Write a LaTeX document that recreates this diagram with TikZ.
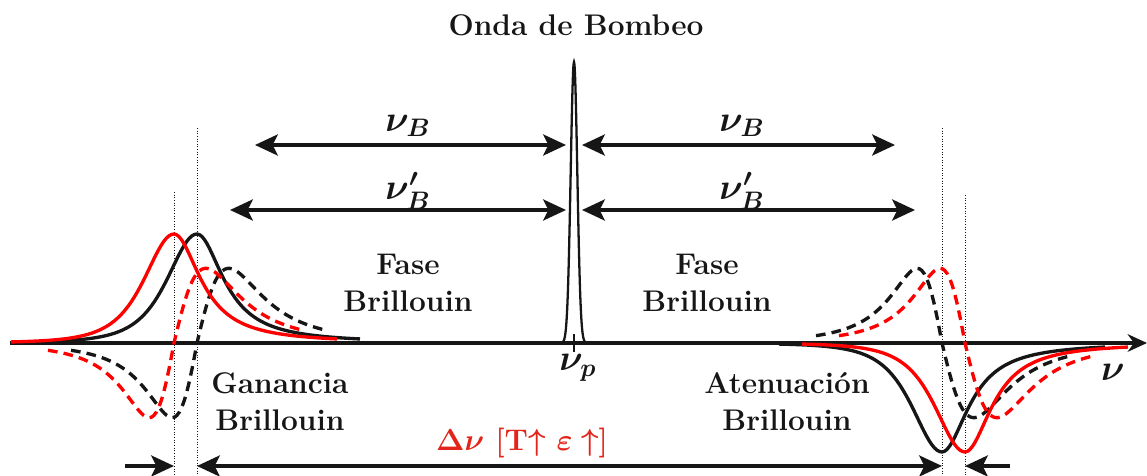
\documentclass[tikz,border=0pt]{standalone}
\usepackage{amsmath,bm}
\usetikzlibrary{arrows.meta}
\definecolor{bsred}{HTML}{FF0000}
\definecolor{bslabel}{HTML}{E3241B}
\definecolor{bsink}{HTML}{161616}

\begin{document}
\begin{tikzpicture}[x=0.02cm, y=-0.02cm,
    font=\fontsize{17}{21}\selectfont\bfseries,
    declare function={
      pk(\d) = (\d<0) ? 109/((1+(\d/54)*(\d/54))^2) : 109/(1+(\d/32)*(\d/32));
      wd(\d) = (\d<0) ? 43 : 55;
      ds(\d) = 230*(\d/wd(\d))/((1+(\d/wd(\d))*(\d/wd(\d)))^2);
    },
    axisline/.style={bsink, line width=2.3pt, -{Stealth[length=11pt, width=10pt]}},
    span/.style={bsink, line width=2pt,
                 {Stealth[length=13pt, width=12pt, inset=3pt]}-{Stealth[length=13pt, width=12pt, inset=3pt]}},
    tip/.style={bsink, line width=2pt, -{Stealth[length=13pt, width=12pt, inset=3pt]}},
    curve/.style={line width=1.9pt},
    phase/.style={curve, dash pattern=on 5.5pt off 3.5pt},
    guide/.style={bsink, line width=0.5pt, densely dotted},
    lbl/.style={align=center, inner sep=1pt, text=bsink},
    sym/.style={inner sep=1pt, text=bsink, font=\fontsize{21}{24}\selectfont}]

\useasboundingbox (0,0) rectangle (1147,476);

% --- frequency axis and pump -------------------------------------------------
\coordinate (ax0) at (10,343);
\coordinate (ax1) at (1147,343);
\draw[axisline] (ax0) -- (ax1);
\node[sym] (nu) at (1113,372) {$\bm{\nu}$};

\draw[bsink, line width=1.3pt] plot[domain=-11:11, samples=45, smooth]
  ({574+\x},{343-281*exp(-(\x*\x)/22)});
\draw[bsink, line width=1.5pt] (574,334) -- (574,352);
\node[sym] (nup) at (578,368) {$\bm{\nu}_{\bm{p}}$};
\node[lbl] (title) at (576,25) {Onda de Bombeo};

% --- Brillouin shift arrows -- name/row y/outer left/outer right/label -------
\foreach \nm/\y/\xl/\xr/\txt in {%
    B/145/255/895/{$\bm{\nu}_{\bm{B}}$},
    Bp/210/230/915/{$\bm{\nu}_{\bm{B}}^{\bm{\prime}}$}}
{
  \coordinate (\nm-l0) at (\xl,\y);
  \coordinate (\nm-l1) at (566,\y);
  \coordinate (\nm-r0) at (582,\y);
  \coordinate (\nm-r1) at (\xr,\y);
  \draw[span] (\nm-l0) -- (\nm-l1);
  \draw[span] (\nm-r0) -- (\nm-r1);
  \node[sym, name=lbl\nm-l] at (408,\y-19) {\txt};
  \node[sym, name=lbl\nm-r] at (742,\y-19) {\txt};
}

% --- guide lines at the gain / loss centres ----------------------------------
\foreach \x/\top in {174/192, 197/128, 942/128, 965/195}
  \draw[guide] (\x,\top) -- (\x,476);

% --- gain side: black = nu_B, red = nu_B' ------------------------------------
\foreach \xo/\col in {197/bsink, 174/bsred}
{
  \draw[\col, curve] plot[domain=-163:163, samples=131]
    ({\xo+\x},{343-pk(\x)});
  \draw[\col, phase] plot[domain=-126:126, samples=101]
    ({\xo+\x},{343-ds(\x)});
}

% --- loss side ---------------------------------------------------------------
\foreach \xo/\col in {942/bsink, 965/bsred}
{
  \draw[\col, curve] plot[domain=-163:163, samples=131]
    ({\xo+\x},{343+pk(\x)});
  \draw[\col, phase] plot[domain=-126:126, samples=101]
    ({\xo+\x},{343+ds(\x)});
}

\node[lbl] (faseL) at (408,283) {Fase\\Brillouin};
\node[lbl] (faseR) at (707,283) {Fase\\Brillouin};
\node[lbl] (gain)  at (280,402) {Ganancia\\Brillouin};
\node[lbl] (loss)  at (787,402) {Atenuación\\Brillouin};

% --- shift of the Brillouin frequency --------------------------------------
\coordinate (dA0) at (125,466);
\coordinate (dA1) at (174,466);
\coordinate (dB0) at (197,466);
\coordinate (dB1) at (942,466);
\coordinate (dC1) at (965,466);
\coordinate (dC0) at (1010,466);
\draw[tip]  (dA0) -- (dA1);
\draw[span] (dB0) -- (dB1);
\draw[tip]  (dC0) -- (dC1);
\node[lbl, text=bslabel] (shift) at (522,443)
  {$\bm{\Delta\nu}$ [T$\bm{\uparrow}$ $\bm{\varepsilon\uparrow}$]};
\end{tikzpicture}
\end{document}
